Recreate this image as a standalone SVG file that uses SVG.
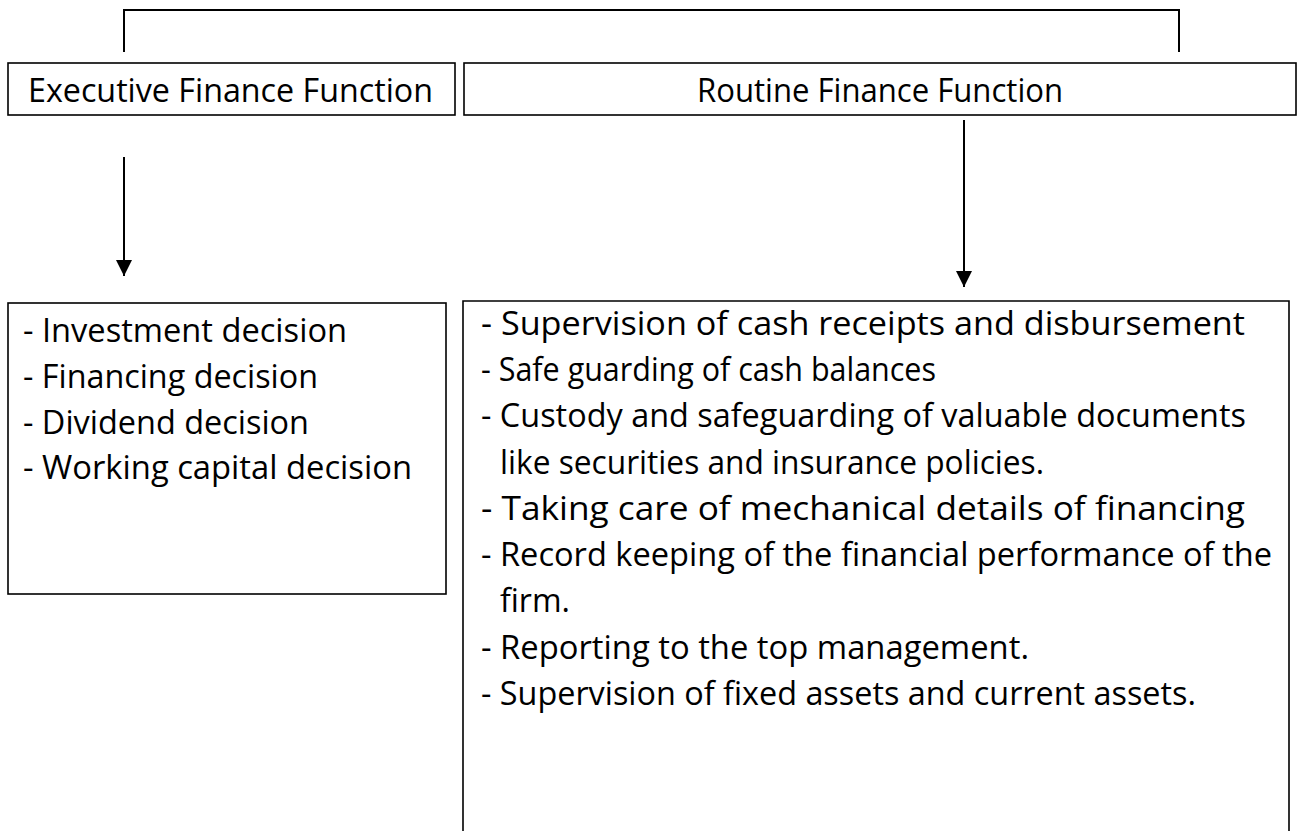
<svg xmlns="http://www.w3.org/2000/svg" width="1298" height="831" viewBox="0 0 1298 831">
  <defs>
    <marker id="arrow" viewBox="0 0 16 16" refX="16" refY="8" markerWidth="16" markerHeight="16" markerUnits="userSpaceOnUse" orient="auto">
      <path d="M0,0 L16,8 L0,16 Z" fill="#000"/>
    </marker>
  </defs>
  <style>
    .box { fill: #fff; stroke: #000; stroke-width: 1.6; }
    .open { fill: none; stroke: #000; stroke-width: 1.6; }
    .link { fill: none; stroke: #000; stroke-width: 2; }
    .txt { font-family: "Open Sans", "Noto Sans", sans-serif; font-size: 32px; fill: #000; }
  </style>
  <rect width="1298" height="831" fill="#fff"/>

  <g id="connectors">
    <path class="link" d="M124 52 V10 H1179 V52"/>
    <line class="link" x1="124" y1="157" x2="124" y2="276" marker-end="url(#arrow)"/>
    <line class="link" x1="964" y1="120" x2="964" y2="287" marker-end="url(#arrow)"/>
  </g>

  <g id="executive">
    <rect class="box" x="8" y="63" width="447" height="52"/>
    <text class="txt" x="28" y="102" textLength="405" lengthAdjust="spacingAndGlyphs">Executive Finance Function</text>
  </g>

  <g id="routine">
    <rect class="box" x="464" y="63" width="832" height="52"/>
    <text class="txt" x="697" y="102" textLength="366" lengthAdjust="spacingAndGlyphs">Routine Finance Function</text>
  </g>

  <g id="executive-tasks">
    <rect class="box" x="8" y="303" width="438" height="291"/>
    <text class="txt" x="23" y="342" textLength="324" lengthAdjust="spacingAndGlyphs">- Investment decision</text>
    <text class="txt" x="23" y="388" textLength="295" lengthAdjust="spacingAndGlyphs">- Financing decision</text>
    <text class="txt" x="23" y="434" textLength="286" lengthAdjust="spacingAndGlyphs">- Dividend decision</text>
    <text class="txt" x="23" y="479" textLength="389" lengthAdjust="spacingAndGlyphs">- Working capital decision</text>
  </g>

  <g id="routine-tasks">
    <path class="open" d="M463 831 V301 H1289 V831"/>
    <text class="txt" x="481" y="335" textLength="764" lengthAdjust="spacingAndGlyphs">- Supervision of cash receipts and disbursement</text>
    <text class="txt" x="481" y="381" textLength="455" lengthAdjust="spacingAndGlyphs">- Safe guarding of cash balances</text>
    <text class="txt" x="481" y="427" textLength="765" lengthAdjust="spacingAndGlyphs">- Custody and safeguarding of valuable documents</text>
    <text class="txt" x="500" y="474" textLength="544" lengthAdjust="spacingAndGlyphs">like securities and insurance policies.</text>
    <text class="txt" x="481" y="520" textLength="764" lengthAdjust="spacingAndGlyphs">- Taking care of mechanical details of financing</text>
    <text class="txt" x="481" y="566" textLength="791" lengthAdjust="spacingAndGlyphs">- Record keeping of the financial performance of the</text>
    <text class="txt" x="500" y="612">firm.</text>
    <text class="txt" x="481" y="659" textLength="548" lengthAdjust="spacingAndGlyphs">- Reporting to the top management.</text>
    <text class="txt" x="481" y="705" textLength="715" lengthAdjust="spacingAndGlyphs">- Supervision of fixed assets and current assets.</text>
  </g>
</svg>
